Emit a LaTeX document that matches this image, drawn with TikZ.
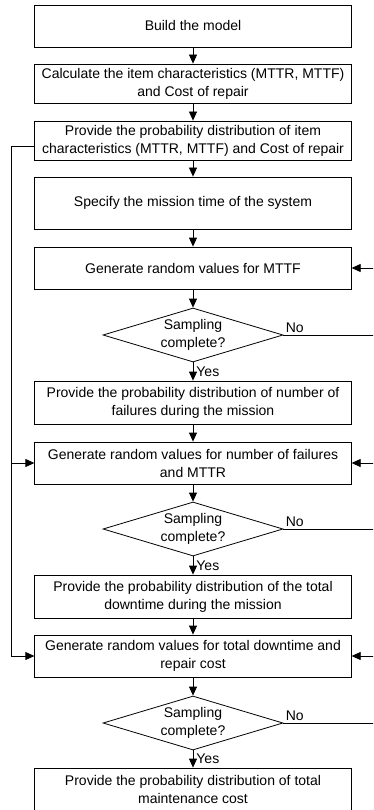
\documentclass[tikz,border=0pt]{standalone}
\usepackage{fontspec}
\setmainfont{Liberation Sans}
\usetikzlibrary{shapes.geometric,arrows.meta}

\begin{document}
\begin{tikzpicture}[x=1pt, y=-1pt,
    font=\fontsize{14}{18}\selectfont,
    box/.style={draw, line width=0.8pt, align=center, minimum width=316.5pt, inner sep=1pt},
    decision/.style={draw, diamond, line width=0.8pt, align=center, aspect=3.33, inner sep=0pt, minimum width=180pt, minimum height=54pt},
    flow/.style={line width=0.8pt, -{Triangle[length=9pt,width=8pt]}},
    plain/.style={line width=0.8pt}]
    % Area
    \useasboundingbox (0,0) rectangle (373,810);
    \clip (0,0) rectangle (373,810);

    % Blocchi
    \node[box, minimum height=42pt] (build) at (193,26) {Build the model};
    \node[box, minimum height=39pt] (calc) at (193,83.5) {Calculate the item characteristics (MTTR, MTTF)\\and Cost of repair};
    \node[box, minimum height=39pt] (probitem) at (193,140.5) {Provide the probability distribution of item\\characteristics (MTTR, MTTF) and Cost of repair};
    \node[box, minimum height=52pt] (mission) at (193,203) {Specify the mission time of the system};
    \node[box, minimum height=42pt] (genmttf) at (193,268) {Generate random values for MTTF};
    \node[decision] (samp1) at (193,335) {Sampling\\complete?};
    \node[box, minimum height=43pt] (probfail) at (193,402.5) {Provide the probability distribution of number of\\failures during the mission};
    \node[box, minimum height=42pt] (gennum) at (193,463) {Generate random values for number of failures\\and MTTR};
    \node[decision] (samp2) at (193,529) {Sampling\\complete?};
    \node[box, minimum height=43pt] (probdown) at (193,596.5) {Provide the probability distribution of the total\\downtime during the mission};
    \node[box, minimum height=42pt] (gencost) at (193,656) {Generate random values for total downtime and\\repair cost};
    \node[decision] (samp3) at (193,723) {Sampling\\complete?};
    \node[box, minimum height=43pt] (probcost) at (193,789.5) {Provide the probability distribution of total\\maintenance cost};

    % Frecce principali
    \draw[flow] (build) -- (calc);
    \draw[flow] (calc) -- (probitem);
    \draw[flow] (probitem) -- (mission);
    \draw[flow] (mission) -- (genmttf);
    \draw[flow] (genmttf) -- (samp1);
    \draw[flow] (samp1) -- node[right, inner sep=3pt] {Yes} (probfail);
    \draw[flow] (probfail) -- (gennum);
    \draw[flow] (gennum) -- (samp2);
    \draw[flow] (samp2) -- node[right, inner sep=3pt] {Yes} (probdown);
    \draw[flow] (probdown) -- (gencost);
    \draw[flow] (gencost) -- (samp3);
    \draw[flow] (samp3) -- node[right, inner sep=3pt] {Yes} (probcost);

    % Ritorni a destra
    \draw[flow] (samp1.east) node[above right, inner sep=2pt] {No} -- ++(93,0) |- (genmttf.east);
    \draw[flow] (samp2.east) node[above right, inner sep=2pt] {No} -- ++(93,0) |- (gennum.east);
    \draw[flow] (samp3.east) node[above right, inner sep=2pt] {No} -- ++(93,0) |- (gencost.east);

    % Linea a sinistra
    \draw[flow] ([yshift=-6pt]probitem.west) -- ++(-22.5,0) |- (gennum.west);
    \draw[flow] ([yshift=-6pt]probitem.west) -- ++(-22.5,0) |- (gencost.west);
\end{tikzpicture}
\end{document}
